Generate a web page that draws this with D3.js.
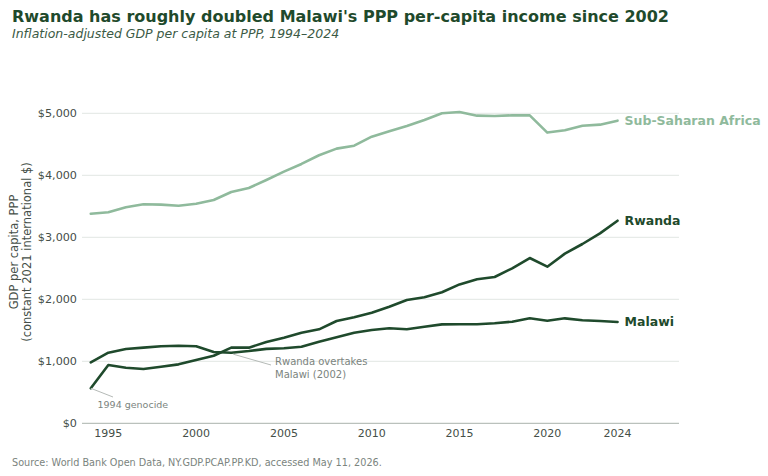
<!DOCTYPE html>
<html><head><meta charset="utf-8">
<script src="https://cdn.jsdelivr.net/npm/d3@7"></script>
<style>body{margin:0;background:#fff}svg{display:block}</style>
</head><body>
<svg id="chart" width="768" height="476"></svg>
<script>
const years = d3.range(1994, 2025);
const rwanda = [565,940,897,876,913,951,1021,1090,1220,1220,1310,1381,1461,1516,1650,1710,1784,1881,1989,2032,2113,2240,2322,2360,2500,2666,2526,2736,2892,3064,3268];
const malawi = [984,1139,1198,1220,1242,1252,1242,1150,1139,1166,1200,1210,1235,1316,1387,1461,1505,1532,1518,1556,1595,1597,1597,1613,1639,1693,1655,1693,1661,1650,1634];
const ssa = [3381,3403,3484,3532,3527,3510,3542,3602,3731,3795,3924,4059,4183,4323,4430,4478,4623,4712,4795,4892,5000,5021,4962,4957,4967,4967,4689,4726,4800,4817,4881];
const seriesNames = ["Sub-Saharan Africa","Rwanda","Malawi"];
const xTicks = [1995,2000,2005,2010,2015,2020,2024];
const yTicks = [0,1000,2000,3000,4000,5000];

const dark = "#1f4a2c", light = "#8fba9c";
const svg = d3.select("#chart");
const x = d3.scaleLinear().domain([1993.5, 2027.5]).range([82, 679]);
const y = d3.scaleLinear().domain([0, 5000]).range([423.3, 113.3]);

// title
svg.append("text").attr("x",12).attr("y",22).attr("font-family","DejaVu Sans").attr("font-weight","bold")
  .attr("font-size",16).attr("fill","#1f4a2c").text("Rwanda has roughly doubled Malawi's PPP per-capita income since 2002");
svg.append("text").attr("x",12).attr("y",38).attr("font-family","DejaVu Sans").attr("font-style","italic")
  .attr("font-size",12.5).attr("fill","#3b5a45").text("Inflation-adjusted GDP per capita at PPP, 1994–2024");

// grid
svg.append("g").selectAll("line").data(yTicks.filter(d=>d>0)).join("line")
  .attr("x1",82).attr("x2",679).attr("y1",d=>y(d)).attr("y2",d=>y(d))
  .attr("stroke","#e2e6e3").attr("stroke-width",1);
// x axis line
svg.append("line").attr("x1",82).attr("x2",679).attr("y1",y(0)).attr("y2",y(0)).attr("stroke","#a9b2ac").attr("stroke-width",1);

// y tick labels
svg.append("g").selectAll("text").data(yTicks).join("text")
  .attr("x",77).attr("y",d=>y(d)).attr("dy","0.35em").attr("text-anchor","end")
  .attr("font-family","DejaVu Sans").attr("font-size",11.2).attr("fill","#454f48")
  .text(d=>d===0?"$0":"$"+d3.format(",")(d));
// x tick labels
svg.append("g").selectAll("text").data(xTicks).join("text")
  .attr("x",d=>x(d)).attr("y",437).attr("text-anchor","middle")
  .attr("font-family","DejaVu Sans").attr("font-size",11).attr("fill","#454f48")
  .text(d=>d);

// y axis title
const yt = svg.append("text").attr("transform","translate(18,252) rotate(-90)")
  .attr("text-anchor","middle").attr("font-family","DejaVu Sans").attr("font-size",11.5).attr("fill","#454f48");
yt.append("tspan").attr("x",0).attr("y",0).text("GDP per capita, PPP");
yt.append("tspan").attr("x",0).attr("y",13).text("(constant 2021 international $)");

// lines
const line = d3.line().x((d,i)=>x(years[i])).y(d=>y(d));
const data = [ssa, rwanda, malawi];
const colors = [light, dark, dark];
svg.append("g").selectAll("path").data(data).join("path")
  .attr("d",line).attr("fill","none").attr("stroke",(d,i)=>colors[i]).attr("stroke-width",2.6)
  .attr("stroke-linejoin","round").attr("stroke-linecap","round");

// end labels
svg.append("g").selectAll("text").data(data).join("text")
  .attr("x",x(2024)+7).attr("y",d=>y(d[d.length-1])).attr("dy","0.35em")
  .attr("font-family","DejaVu Sans").attr("font-weight","bold").attr("font-size",12.5)
  .attr("fill",(d,i)=>colors[i]).text((d,i)=>seriesNames[i]);

// annotations
const gray = "#7b847e";
svg.append("line").attr("x1",x(1994)).attr("y1",y(rwanda[0])).attr("x2",113).attr("y2",397)
  .attr("stroke","#b5bab7").attr("stroke-width",1);
svg.append("text").attr("x",97.5).attr("y",408).attr("font-family","DejaVu Sans").attr("font-size",9.5)
  .attr("fill",gray).text("1994 genocide");
svg.append("line").attr("x1",x(2002)+2).attr("y1",y(malawi[8])+1.5).attr("x2",271).attr("y2",365)
  .attr("stroke","#b5bab7").attr("stroke-width",1);
const an = svg.append("text").attr("font-family","DejaVu Sans").attr("font-size",10).attr("fill",gray);
an.append("tspan").attr("x",275).attr("y",365).text("Rwanda overtakes");
an.append("tspan").attr("x",275).attr("y",377.5).text("Malawi (2002)");

// source
svg.append("text").attr("x",12).attr("y",466).attr("font-family","DejaVu Sans").attr("font-size",9.7)
  .attr("fill","#7b847e").text("Source: World Bank Open Data, NY.GDP.PCAP.PP.KD, accessed May 11, 2026.");
</script>
</body></html>
